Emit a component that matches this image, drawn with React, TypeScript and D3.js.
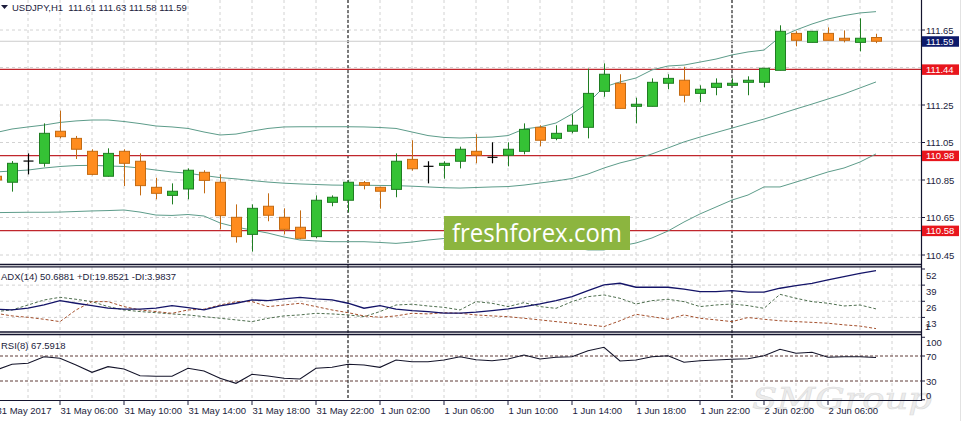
import React from 'react';
import * as d3 from 'd3';

const W = 963;
const H = 421;

// OHLC, bar index 0 = 31 May 02:00 (H1)
const opens = [110.870, 110.838, 110.951, 110.939, 111.110, 111.072, 111.003, 110.870, 111.003, 110.950,
  110.811, 110.768, 110.802, 110.891, 110.838, 110.651, 110.560, 110.710, 110.651, 110.598,
  110.548, 110.731, 110.742, 110.836, 110.811, 110.800, 110.960, 110.923, 110.928, 110.950,
  111.003, 110.971, 110.982, 111.003, 111.131, 111.072, 111.110, 111.131, 111.323, 111.366,
  111.243, 111.243, 111.366, 111.382, 111.312, 111.344, 111.355, 111.371, 111.371, 111.435,
  111.632, 111.584, 111.632, 111.606, 111.584, 111.61];
const highs = [110.885, 110.951, 110.992, 111.152, 111.220, 111.085, 111.014, 111.019, 111.014, 110.992,
  110.862, 110.832, 110.912, 110.902, 110.880, 110.720, 110.720, 110.779, 110.699, 110.688,
  110.768, 110.768, 110.848, 110.845, 110.814, 110.992, 111.062, 110.950, 110.950, 111.028,
  111.094, 111.051, 111.051, 111.152, 111.142, 111.142, 111.200, 111.444, 111.472, 111.414,
  111.289, 111.392, 111.414, 111.454, 111.355, 111.392, 111.392, 111.403, 111.446, 111.675,
  111.643, 111.643, 111.664, 111.648, 111.712, 111.63];
const lows = [110.840, 110.788, 110.880, 110.921, 111.072, 110.962, 110.875, 110.868, 110.818, 110.768,
  110.747, 110.720, 110.747, 110.779, 110.587, 110.516, 110.468, 110.630, 110.560, 110.534,
  110.539, 110.710, 110.678, 110.800, 110.697, 110.758, 110.900, 110.832, 110.857, 110.912,
  110.939, 110.939, 110.923, 110.987, 111.030, 111.062, 111.099, 111.072, 111.294, 111.232,
  111.152, 111.243, 111.334, 111.264, 111.266, 111.302, 111.350, 111.302, 111.344, 111.435,
  111.563, 111.584, 111.595, 111.584, 111.536, 111.58];
const closes = [110.850, 110.939, 110.951, 111.099, 111.081, 111.014, 110.880, 110.992, 110.939, 110.820,
  110.779, 110.790, 110.902, 110.848, 110.660, 110.548, 110.699, 110.662, 110.587, 110.539,
  110.742, 110.758, 110.838, 110.822, 110.790, 110.950, 110.910, 110.923, 110.939, 111.014,
  110.982, 110.971, 111.014, 111.120, 111.062, 111.099, 111.142, 111.312, 111.414, 111.232,
  111.254, 111.371, 111.392, 111.302, 111.334, 111.366, 111.366, 111.382, 111.446, 111.643,
  111.595, 111.643, 111.595, 111.595, 111.606, 111.59];

// Bollinger bands
const bbUpper = [111.103, 111.122, 111.133, 111.143, 111.157, 111.165, 111.170, 111.170, 111.162, 111.151,
  111.138, 111.133, 111.125, 111.106, 111.090, 111.095, 111.111, 111.125, 111.133, 111.134,
  111.134, 111.134, 111.134, 111.133, 111.130, 111.125, 111.106, 111.087, 111.077, 111.074,
  111.077, 111.079, 111.087, 111.122, 111.133, 111.154, 111.202, 111.261, 111.346, 111.373,
  111.394, 111.437, 111.458, 111.463, 111.479, 111.495, 111.517, 111.533, 111.543, 111.613,
  111.650, 111.682, 111.709, 111.727, 111.741, 111.748];
const bbMiddle = [110.893, 110.898, 110.903, 110.914, 110.922, 110.927, 110.928, 110.925, 110.922, 110.914,
  110.903, 110.893, 110.886, 110.874, 110.863, 110.856, 110.847, 110.839, 110.833, 110.829,
  110.826, 110.823, 110.822, 110.822, 110.821, 110.820, 110.817, 110.813, 110.809, 110.807,
  110.810, 110.813, 110.815, 110.823, 110.834, 110.845, 110.858, 110.882, 110.914, 110.941,
  110.962, 110.989, 111.021, 111.053, 111.079, 111.103, 111.127, 111.151, 111.175, 111.202,
  111.229, 111.255, 111.282, 111.309, 111.341, 111.373];
const bbLower = [110.676, 110.677, 110.678, 110.678, 110.679, 110.682, 110.685, 110.687, 110.690, 110.679,
  110.663, 110.661, 110.666, 110.658, 110.621, 110.599, 110.583, 110.567, 110.546, 110.530,
  110.525, 110.521, 110.521, 110.521, 110.517, 110.512, 110.519, 110.530, 110.538, 110.538,
  110.535, 110.533, 110.530, 110.519, 110.514, 110.503, 110.490, 110.477, 110.477, 110.498,
  110.514, 110.541, 110.578, 110.626, 110.669, 110.706, 110.743, 110.770, 110.813, 110.813,
  110.839, 110.866, 110.893, 110.914, 110.946, 110.989];

// ADX(14)
const adxMain = [19.6, 19.0, 20.4, 23.1, 26.5, 24.4, 22.5, 20.4, 19.6, 19.6,
  20.4, 22.5, 20.9, 19.0, 22.2, 24.4, 27.1, 26.5, 27.9, 29.2,
  27.9, 27.1, 24.4, 20.4, 22.5, 19.6, 18.5, 17.7, 16.4, 16.4,
  17.2, 18.5, 19.8, 21.7, 23.9, 26.5, 29.8, 34.6, 39.2, 40.5,
  37.3, 37.3, 37.3, 35.7, 33.8, 33.8, 34.6, 33.3, 33.3, 36.5,
  38.6, 40.5, 43.2, 45.9, 48.5, 50.69];
const plusDI = [17.7, 19.0, 23.0, 27.0, 29.2, 27.6, 25.7, 21.7, 19.0, 17.7,
  16.8, 15.8, 15.0, 13.6, 12.3, 11.0, 9.6, 12.3, 14.2, 15.0,
  16.3, 15.8, 15.0, 13.6, 17.7, 23.0, 23.6, 22.2, 21.1, 19.0,
  25.7, 24.4, 21.7, 24.9, 21.7, 20.3, 25.7, 29.7, 31.1, 28.4,
  23.8, 26.5, 27.6, 25.7, 21.7, 23.0, 23.8, 22.5, 20.3, 31.6,
  28.4, 25.7, 24.4, 22.2, 23.0, 19.85];
const minusDI = [16.3, 14.2, 13.1, 11.5, 9.6, 19.0, 25.7, 25.7, 21.7, 19.0,
  17.7, 16.3, 19.0, 19.6, 23.0, 25.7, 25.7, 21.7, 23.0, 24.4,
  21.7, 19.0, 16.8, 14.2, 13.1, 14.2, 16.3, 15.8, 16.8, 16.3,
  15.0, 14.2, 13.6, 12.3, 11.0, 9.6, 8.3, 7.0, 5.6, 10.3,
  15.5, 13.6, 11.5, 15.0, 12.3, 11.0, 9.6, 12.9, 11.5, 10.3,
  9.6, 9.0, 8.3, 7.0, 6.0, 3.98];

// RSI(8)
const rsi = [47.6, 56.7, 58.3, 68.9, 66.3, 55.6, 43.9, 52.9, 49.2, 38.5,
  37.5, 37.5, 50.3, 46.0, 34.3, 26.3, 40.7, 38.0, 34.3, 33.2,
  50.3, 51.9, 56.7, 55.6, 51.9, 63.6, 60.9, 60.9, 63.6, 68.9,
  64.0, 62.5, 65.2, 71.6, 65.2, 67.9, 68.9, 78.5, 83.9, 62.0,
  63.6, 68.9, 70.5, 59.9, 62.5, 63.6, 64.7, 65.7, 70.5, 80.7,
  74.3, 75.9, 67.9, 68.9, 68.9, 67.59];

const priceTicks = [111.65, 111.45, 111.25, 111.05, 110.85, 110.65, 110.45];
const levelPrices = [111.44, 110.98, 110.58];
const bidPrice = 111.59;
const adxTicks = [52, 39, 26, 13];
const rsiTicks = [100, 70, 30, 0];
const rsiLevels = [70, 30];
const xLabelBars = [0, 4, 8, 12, 16, 20, 24, 28, 32, 36, 40, 44, 48, 52];
const xLabelTexts = ['31 May 2017', '31 May 06:00', '31 May 10:00', '31 May 14:00', '31 May 18:00',
  '31 May 22:00', '1 Jun 02:00', '1 Jun 06:00', '1 Jun 10:00', '1 Jun 14:00', '1 Jun 18:00',
  '1 Jun 22:00', '2 Jun 02:00', '2 Jun 06:00'];
const separatorBars = [22, 46];

const FONT = "'Liberation Sans', Arial, sans-serif";
const TXT = '#1c1c3c';
const AXIS_X = 921;

export default function App() {
  const n = closes.length;
  const x = d3.scaleLinear().domain([0, 55]).range([-4, 876]);
  const yP = d3.scaleLinear().domain([111.65, 110.45]).range([30, 255]);
  const yA = d3.scaleLinear().domain([52, 13]).range([269, 317.4]);
  const yR = d3.scaleLinear().domain([100, 0]).range([337.25, 399.75]);

  const idx = d3.range(n);
  const lineP = (arr: number[]) => d3.line<number>().x((i) => x(i)).y((i) => yP(arr[i]))(idx) || '';
  const lineA = (arr: number[]) => d3.line<number>().x((i) => x(i)).y((i) => yA(arr[i]))(idx) || '';
  const lineR = d3.line<number>().x((i) => x(i)).y((i) => yR(rsi[i]))(idx) || '';

  const gridXs = d3.range(1, 29).map((k) => x(2 * k));
  const bw = 10;
  // price labels hidden behind a level/bid box are not drawn
  const hiddenTick = (p: number) =>
    [...levelPrices, bidPrice].some((q) => Math.abs(yP(q) - yP(p)) < 9);

  return (
    <svg width={W} height={H} style={{ position: 'absolute', left: 0, top: 0, background: '#fff' }}
      fontFamily={FONT}>
      <defs>
        <clipPath id="cMain"><rect x={0} y={0} width={AXIS_X} height={264} /></clipPath>
        <clipPath id="cAdx"><rect x={0} y={267} width={AXIS_X} height={65} /></clipPath>
        <clipPath id="cRsi"><rect x={0} y={335} width={AXIS_X} height={65} /></clipPath>
      </defs>
      <rect x={0} y={0} width={W} height={H} fill="#fff" />

      {/* vertical grid */}
      {gridXs.map((gx, k) => (
        <g key={'vg' + k}>
          <line x1={gx} x2={gx} y1={0} y2={264} stroke="#d2d2d2" strokeDasharray="3,3" />
          <line x1={gx} x2={gx} y1={267} y2={332} stroke="#d2d2d2" strokeDasharray="3,3" />
          <line x1={gx} x2={gx} y1={335} y2={400} stroke="#d2d2d2" strokeDasharray="3,3" />
        </g>
      ))}
      {/* horizontal grid */}
      {priceTicks.map((p) => (
        <line key={'hg' + p} x1={0} x2={AXIS_X} y1={yP(p)} y2={yP(p)} stroke="#d2d2d2" strokeDasharray="3,3" />
      ))}
      {adxTicks.slice(1).map((v) => (
        <line key={'ag' + v} x1={0} x2={AXIS_X} y1={yA(v)} y2={yA(v)} stroke="#d2d2d2" strokeDasharray="3,3" />
      ))}

      {/* watermark SMGroup */}
      <text x={752} y={409} fontFamily="'DejaVu Serif', serif" fontStyle="italic" fontSize={30}
        fill="#ececec" stroke="#dcdcdc" strokeWidth={0.6} textLength={180} lengthAdjust="spacingAndGlyphs">SMGroup</text>

      {/* period separators */}
      {separatorBars.map((b) => (
        <line key={'sep' + b} x1={x(b)} x2={x(b)} y1={0} y2={400} stroke="#000" strokeDasharray="3,2" />
      ))}

      <g clipPath="url(#cMain)">
        {/* bid line */}
        <line x1={0} x2={AXIS_X} y1={yP(bidPrice)} y2={yP(bidPrice)} stroke="#cccccc" />
        {/* level lines */}
        {levelPrices.map((p) => (
          <line key={'lv' + p} x1={0} x2={AXIS_X} y1={yP(p)} y2={yP(p)} stroke="#c0262c" strokeWidth={1.2} />
        ))}
        {/* bollinger */}
        {[bbUpper, bbMiddle, bbLower].map((arr, k) => (
          <path key={'bb' + k} d={lineP(arr)} fill="none" stroke="#5d9c8a" strokeWidth={1} />
        ))}
        {/* candles */}
        {idx.map((i) => {
          const o = opens[i], c = closes[i], h = highs[i], l = lows[i];
          const cx = Math.round(x(i)) + 0.5;
          if (Math.abs(o - c) < 0.0005) {
            return (
              <g key={'c' + i} stroke="#000" strokeWidth={1.2}>
                <line x1={cx} x2={cx} y1={yP(h)} y2={yP(l)} />
                <line x1={cx - 5} x2={cx + 5} y1={yP(o)} y2={yP(o)} />
              </g>
            );
          }
          const bull = c > o;
          const top = yP(Math.max(o, c));
          const bot = yP(Math.min(o, c));
          const edge = bull ? '#1f7d22' : '#c36a12';
          const fill = bull ? '#35c235' : '#ff8c1e';
          return (
            <g key={'c' + i}>
              <line x1={cx} x2={cx} y1={yP(h)} y2={yP(l)} stroke={edge} strokeWidth={1} />
              <rect x={cx - bw / 2} y={top} width={bw} height={Math.max(bot - top, 1.5)}
                fill={fill} stroke={edge} strokeWidth={1} />
            </g>
          );
        })}
      </g>

      {/* freshforex watermark */}
      <rect x={444} y={216} width={186} height={34} fill="#8cb53f" />
      <text x={452} y={242} fontFamily="'Open Sans', sans-serif" fontSize={26} fill="#fff"
        textLength={170} lengthAdjust="spacingAndGlyphs">freshforex.com</text>

      {/* ADX */}
      <g clipPath="url(#cAdx)">
        <path d={lineA(plusDI)} fill="none" stroke="#4f6f4f" strokeWidth={1} strokeDasharray="3,2" />
        <path d={lineA(minusDI)} fill="none" stroke="#a5512e" strokeWidth={1} strokeDasharray="3,2" />
        <path d={lineA(adxMain)} fill="none" stroke="#141468" strokeWidth={1.3} />
      </g>

      {/* RSI */}
      {rsiLevels.map((v) => (
        <line key={'rl' + v} x1={0} x2={AXIS_X} y1={yR(v)} y2={yR(v)} stroke="#5e3b36" strokeDasharray="3,2" />
      ))}
      <g clipPath="url(#cRsi)">
        <path d={lineR} fill="none" stroke="#14142a" strokeWidth={1.1} />
      </g>

      {/* panel borders */}
      <line x1={0} x2={AXIS_X} y1={264.5} y2={264.5} stroke="#14142e" strokeWidth={1.3} />
      <line x1={0} x2={AXIS_X} y1={266.8} y2={266.8} stroke="#14142e" strokeWidth={1.3} />
      <line x1={0} x2={AXIS_X} y1={332} y2={332} stroke="#14142e" strokeWidth={1.3} />
      <line x1={0} x2={AXIS_X} y1={334.5} y2={334.5} stroke="#14142e" strokeWidth={1.3} />
      <line x1={0} x2={AXIS_X} y1={400.5} y2={400.5} stroke="#14142e" strokeWidth={1.2} />
      <line x1={AXIS_X + 0.5} x2={AXIS_X + 0.5} y1={0} y2={401} stroke="#14142e" strokeWidth={1.2} />
      <line x1={960.5} x2={960.5} y1={0} y2={421} stroke="#e2e2e2" />

      {/* price axis labels */}
      {priceTicks.map((p) => (
        <g key={'pt' + p}>
          <line x1={AXIS_X} x2={AXIS_X + 4} y1={yP(p)} y2={yP(p)} stroke={TXT} />
          {!hiddenTick(p) && (
            <text x={926} y={yP(p) + 3.5} fontSize={9.5} fill={TXT}>{p.toFixed(2)}</text>
          )}
        </g>
      ))}
      {levelPrices.map((p) => (
        <g key={'lb' + p}>
          <rect x={922} y={yP(p) - 5} width={37} height={10.5} fill="#e8161d" />
          <text x={926} y={yP(p) + 3.6} fontSize={9.5} fill="#fff">{p.toFixed(2)}</text>
        </g>
      ))}
      <rect x={922} y={yP(bidPrice) - 5} width={37} height={10.5} fill="#0d1a6b" />
      <text x={926} y={yP(bidPrice) + 3.6} fontSize={9.5} fill="#fff">{bidPrice.toFixed(2)}</text>

      {/* ADX labels */}
      {adxTicks.map((v) => (
        <g key={'at' + v}>
          <line x1={AXIS_X} x2={AXIS_X + 4} y1={yA(v)} y2={yA(v)} stroke={TXT} />
          <text x={926} y={yA(v) + 10} fontSize={9.5} fill={TXT}>{v}</text>
        </g>
      ))}
      <text x={925} y={yA(13) + 13} fontSize={9.5} fill={TXT}>1</text>

      {/* RSI labels */}
      {rsiTicks.map((v) => {
        const yy = Math.min(Math.max(yR(v), 342), 395);
        return (
          <g key={'rt' + v}>
            <line x1={AXIS_X} x2={AXIS_X + 4} y1={yR(v)} y2={yR(v)} stroke={TXT} />
            <text x={926} y={yy + 3.5} fontSize={9.5} fill={TXT}>{v}</text>
          </g>
        );
      })}

      {/* x axis labels */}
      {xLabelBars.map((b, k) => (
        <g key={'xl' + b}>
          <line x1={x(b)} x2={x(b)} y1={400} y2={405} stroke={TXT} />
          <text x={x(b) + 0.5} y={414} fontSize={9.5} fill={TXT}>{xLabelTexts[k]}</text>
        </g>
      ))}

      {/* headers */}
      <path d="M1,5 L8,5 L4.5,9 Z" fill="#1c1c3c" />
      <text x={12} y={10.5} fontSize={9.5} fill={TXT} style={{ whiteSpace: 'pre' }}>
        {'USDJPY,H1  111.61 111.63 111.58 111.59'}
      </text>
      <text x={1} y={279.5} fontSize={9.5} fill={TXT}>ADX(14) 50.6881 +DI:19.8521 -DI:3.9837</text>
      <text x={1} y={348.5} fontSize={9.5} fill={TXT}>RSI(8) 67.5918</text>
    </svg>
  );
}
